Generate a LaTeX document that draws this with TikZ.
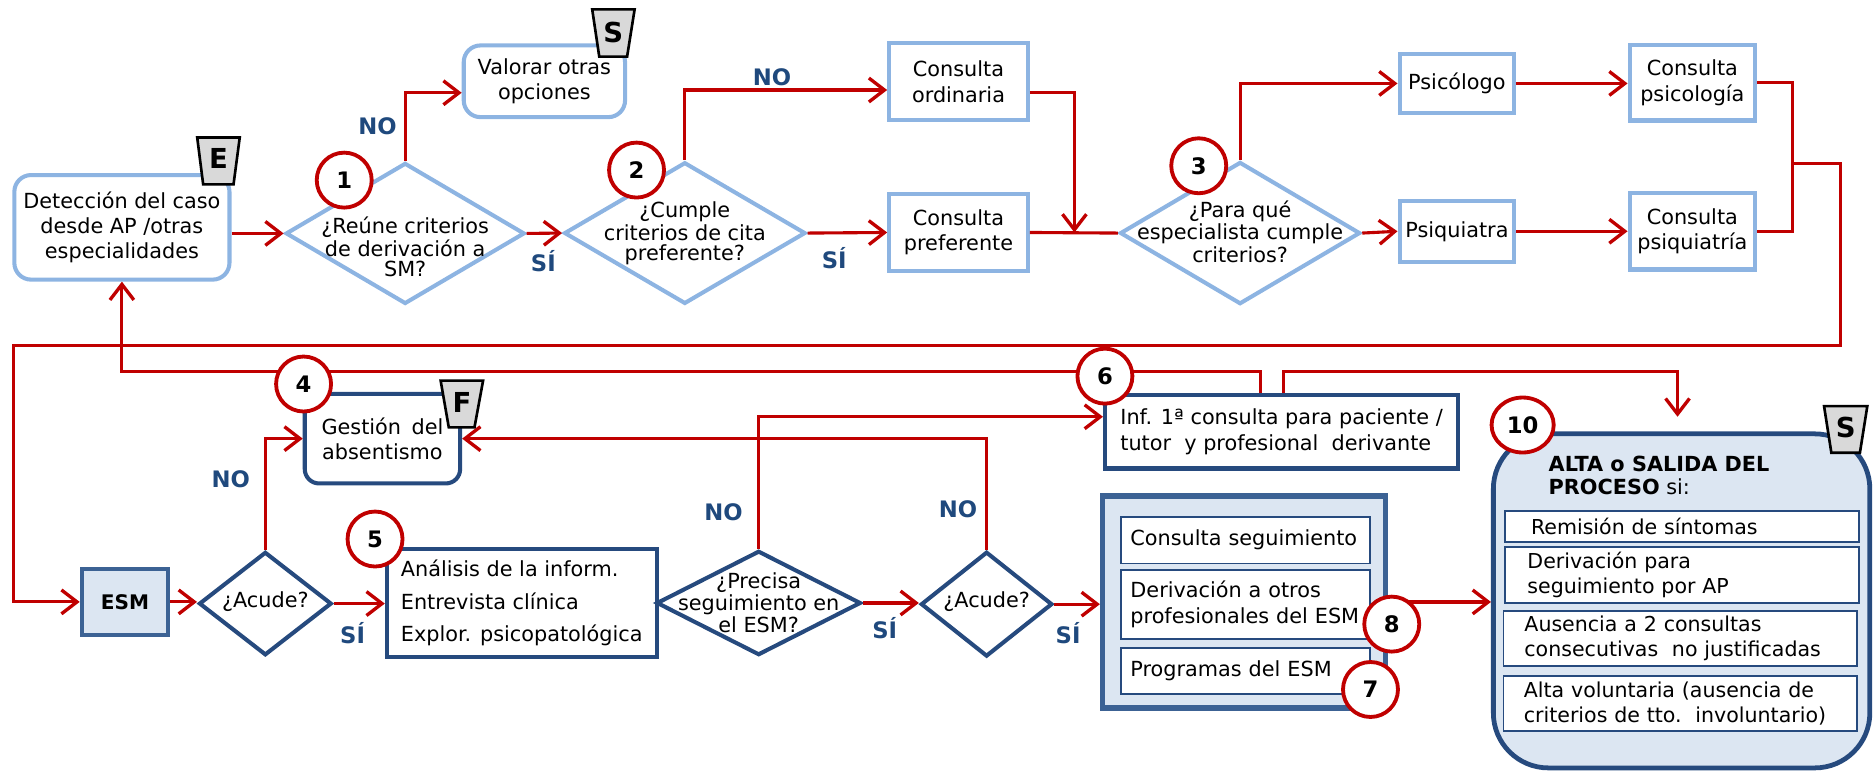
\documentclass[tikz,border=0pt]{standalone}
\usepackage{fontspec}
\setmainfont{DejaVu Sans}
\usetikzlibrary{arrows.meta,shapes.geometric,calc}
\definecolor{lblue}{RGB}{141,180,226}
\definecolor{dblue}{RGB}{38,74,126}
\definecolor{esmb}{RGB}{60,98,148}
\definecolor{ered}{RGB}{192,0,0}
\definecolor{lab}{RGB}{31,73,125}
\definecolor{lfill}{RGB}{220,230,242}
\definecolor{tagg}{RGB}{217,217,217}
\newcommand{\myft}{\fontsize{8.7}{10.6}\selectfont}
\newcommand{\dft}{\fontsize{8.7}{8.4}\selectfont}
\newcommand{\aft}{\fontsize{8.6}{10.5}\selectfont}
\tikzset{
 lbox/.style={draw=lblue, line width=1.7pt, fill=white, inner sep=0pt, align=center, font=\myft},
 lrbox/.style={lbox, rounded corners=7pt},
 ldia/.style={diamond, draw=lblue, line width=1.7pt, fill=white, inner sep=0pt},
 ddia/.style={diamond, draw=dblue, line width=1.7pt, fill=white, inner sep=0pt},
 dtxt/.style={align=center, font=\dft, inner sep=0pt},
 dbox/.style={draw=dblue, line width=1.7pt, fill=white, inner sep=0pt, align=center, font=\myft},
 ibox/.style={draw=dblue, line width=0.8pt, fill=white, inner ysep=0pt, align=left, font=\myft},
 numc/.style={circle, draw=ered, line width=1.6pt, fill=white, minimum size=23pt, inner sep=0pt, font=\fontsize{9.5}{10}\selectfont\bfseries},
 conn/.style={draw=ered, line width=1.3pt, -{Straight Barb[length=6.5pt,width=10pt,line width=1.4pt]}},
 wire/.style={draw=ered, line width=1.3pt},
 yn/.style={text=lab, font=\fontsize{9.5}{10}\selectfont\bfseries, inner sep=0pt},
 tag/.style={fill=tagg, draw=black, line width=1.1pt, line join=miter},
 tagl/.style={font=\fontsize{11.5}{12}\selectfont\bfseries, inner sep=0pt},
}
\begin{document}
\begin{tikzpicture}[x=0.5pt,y=-0.5pt]
\useasboundingbox (0,0) rectangle (1568,645);

% ---------- top row ----------
\node[lrbox, minimum width=90pt, minimum height=43.75pt] (det) at (102,190.2) {Detección del caso\\desde AP /otras\\especialidades};
\node[ldia, minimum width=100pt, minimum height=59pt] (d1) at (339,195.3) {};
\node[dtxt] (d1t) at (339,206.5) {¿Reúne criterios\\de derivación a\\SM?};
\node[lrbox, minimum width=67.5pt, minimum height=30pt] (val) at (455.5,68) {Valorar otras\\opciones};
\node[ldia, minimum width=101pt, minimum height=59.25pt] (d2) at (573,195) {};
\node[dtxt] (d2t) at (573,195.3) {¿Cumple\\criterios de cita\\preferente?};
\node[lbox, minimum width=58pt, minimum height=32pt] (ord) at (802,68.3) {Consulta\\ordinaria};
\node[lbox, minimum width=58pt, minimum height=32pt] (pref) at (802,194.5) {Consulta\\preferente};
\node[ldia, minimum width=100.5pt, minimum height=59.5pt] (d3) at (1037.6,195) {};
\node[dtxt, font=\fontsize{8.7}{9.3}\selectfont] (d3t) at (1037.6,193.8) {¿Para qué\\especialista cumple\\criterios?};
\node[lbox, minimum width=48pt, minimum height=25pt] (psic) at (1219,69.8) {Psicólogo};
\node[lbox, minimum width=48pt, minimum height=25.5pt] (psiq) at (1219,193.5) {Psiquiatra};
\node[lbox, minimum width=52.5pt, minimum height=31.5pt] (cpsic) at (1416,69.3) {Consulta\\psicología};
\node[lbox, minimum width=52.5pt, minimum height=32pt] (cpsiq) at (1416,193.5) {Consulta\\psiquiatría};

% ---------- bottom row ----------
\node[dbox, fill=lfill, draw=esmb, minimum width=36.2pt, minimum height=27.5pt, font=\fontsize{8.4}{10}\selectfont\bfseries] (esm) at (104.6,503.6) {ESM};
\node[ddia, minimum width=55.5pt, minimum height=43.25pt] (a1) at (222,505) {};
\node[dtxt] (a1t) at (222,503) {¿Acude?};
\node[dbox, rounded corners=6pt, minimum width=65pt, minimum height=37.5pt] (ges) at (320,367) {Gestión\hspace{1.6pt} del\\absentismo};
\node[dbox, align=left, minimum width=112.85pt, minimum height=45pt] (ana) at (436.5,504.5) {Análisis de la inform.\\[3pt]Entrevista clínica\\[3pt]Explor. psicopatológica};
\node[ddia, minimum width=85.5pt, minimum height=43.65pt] (pre) at (634.8,504.5) {};
\node[dtxt, font=\fontsize{8.7}{8.1}\selectfont] (pret) at (634.8,504.3) {¿Precisa\\seguimiento en\\el ESM?};
\node[ddia, minimum width=55pt, minimum height=43.85pt] (a2) at (825.5,505.5) {};
\node[dtxt] (a2t) at (825.5,503) {¿Acude?};
\node[dbox, align=left, minimum width=147.75pt, minimum height=30.7pt] (inf) at (1072.3,361.3) {Inf. 1ª consulta para paciente /\\tutor\ \ y profesional\ \ derivante};

\node[draw=esmb, line width=2.2pt, fill=lfill, minimum width=118.25pt, minimum height=88.65pt, inner sep=0pt] (grp) at (1040.75,503.65) {};
\node[ibox, text width=96pt, inner xsep=4.1pt, minimum height=19.55pt] (i1) at (1041.85,451.95) {Consulta seguimiento};
\node[ibox, text width=96pt, inner xsep=4.1pt, minimum height=28.65pt] (i2) at (1041.85,505.65) {Derivación a otros\\profesionales del ESM};
\node[ibox, text width=96pt, inner xsep=4.1pt, minimum height=19.15pt] (i3) at (1041.85,561.15) {Programas del ESM};

\node[draw=dblue, line width=2pt, fill=lfill, rounded corners=23pt, minimum width=157.5pt, minimum height=139.75pt, inner sep=0pt] (alta) at (1407,502.75) {};
\node[anchor=west, align=left, inner sep=0pt, font=\fontsize{8.7}{9.75}\selectfont] (altat) at (1295.4,397.5) {\textbf{ALTA o SALIDA DEL}\\\textbf{PROCESO} si:};
\node[ibox, font=\aft, text width=126.4pt, inner xsep=10.75pt, minimum height=12.8pt] (r1) at (1407.4,440.5) {Remisión de síntomas};
\node[ibox, font=\aft, text width=129.4pt, inner xsep=9.25pt, minimum height=23.2pt] (r2) at (1407.4,481.2) {Derivación para\\seguimiento por AP};
\node[ibox, font=\aft, text width=130.4pt, inner xsep=8.75pt, minimum height=23.2pt] (r3) at (1405.9,534.2) {Ausencia a 2 consultas\\consecutivas\ \ no justificadas};
\node[ibox, font=\aft, text width=130.9pt, inner xsep=8.5pt, minimum height=23pt] (r4) at (1405.9,588.5) {Alta voluntaria (ausencia de\\criterios de tto.\ \ involuntario)};

% ---------- connectors ----------
\draw[conn] (det.east |- d1.west) -- (d1.west);
\draw[conn] (d1.north) |- ($(val.west)+(0,9.6)$);
\draw[conn] (d1.east) -- (d2.west);
\draw[conn] (d2.north) |- ($(ord.west)+(0,7)$);
\draw[conn] (d2.east) -- (pref.west);
\coordinate (j1) at (899,194.5);
\draw[conn] ($(ord.east)+(0,9.3)$) -| (j1);
\draw[wire] (pref.east) -- (d3.west);
\draw[conn] (d3.north) |- (psic.west);
\draw[conn] (psic.east) -- (cpsic.west |- psic.east);
\draw[conn] (d3.east) -- (psiq.west);
\draw[conn] (psiq.east) -- (cpsiq.west |- psiq.east);
\coordinate (br) at (1500,136.7);
\draw[wire] (cpsic.east) -| (br) |- (cpsiq.east);
\coordinate (rA) at (1539.8,136.7);
\coordinate (rB) at (1539.8,288.7);
\coordinate (rC) at (11.5,288.7);
\draw[conn] (br) -- (rA) -- (rB) -- (rC) |- (esm.west);

\coordinate (t1) at (1054.6,311);
\draw[conn] (inf.north -| t1) -- (t1) -| (det.south);
\coordinate (t2) at (1073.9,311);
\coordinate (aTip) at (1403.6,348.7);
\draw[conn] (inf.north -| t2) -- (t2) -| (aTip);

\draw[conn] (esm.east) -- (esm.east -| a1.west);
\draw[conn] (a1.north) |- (ges.west);
\draw[conn] (a1.east) -- (a1.east -| ana.west);
\draw[conn] (pre.north) |- ($(inf.west)+(0,-12.6)$);
\draw[conn] (pre.east) -- (pre.east -| a2.west);
\draw[conn] (a2.north) |- (ges.east);
\draw[conn] (a2.east) -- (a2.east -| grp.west);
\draw[conn] (grp.east) -- (grp.east -| alta.west);

% ---------- labels ----------
\node[yn] (no1) at (315.8,105.5) {NO};
\node[yn] (no2) at (646,64.7) {NO};
\node[yn] (no3) at (193,401) {NO};
\node[yn] (no4) at (605.4,428.2) {NO};
\node[yn] (no5) at (801.6,426.3) {NO};
\node[yn] (si1) at (454.6,218.5) {SÍ};
\node[yn] (si2) at (698,216) {SÍ};
\node[yn] (si3) at (295,530) {SÍ};
\node[yn] (si4) at (740.3,525.9) {SÍ};
\node[yn] (si5) at (893.7,530) {SÍ};

% ---------- numbered circles ----------
\node[numc] (c1) at (288,150.7) {1};
\node[numc] (c2) at (532.6,142.3) {2};
\node[numc] (c3) at (1003,138.7) {3};
\node[numc] (c4) at (254,321.3) {4};
\node[numc] (c5) at (313.8,451) {5};
\node[numc] (c6) at (924.5,314.7) {6};
\node[numc] (c8) at (1164.5,522.2) {8};
\node[numc] (c7) at (1146.7,576.9) {7};
\node[numc, ellipse, minimum width=26pt, minimum height=23pt] (c10) at (1274,355.6) {10};

% ---------- tags ----------
\filldraw[tag] (165,115) -- (200.6,115) -- (195.4,154.3) -- (170,154.3) -- cycle;
\node[tagl] (tE) at (182.8,133) {E};
\filldraw[tag] (495.5,7.8) -- (531,7.8) -- (524.7,47.4) -- (501.4,47.4) -- cycle;
\node[tagl] (tS1) at (513.2,27) {S};
\filldraw[tag] (368.7,318.5) -- (404.2,318.5) -- (397,357.6) -- (375.5,357.6) -- cycle;
\node[tagl] (tF) at (386.5,336.5) {F};
\filldraw[tag] (1526.2,339.8) -- (1562.4,339.8) -- (1556.2,378.8) -- (1532.3,378.8) -- cycle;
\node[tagl] (tS2) at (1544.3,357.5) {S};
\end{tikzpicture}
\end{document}
